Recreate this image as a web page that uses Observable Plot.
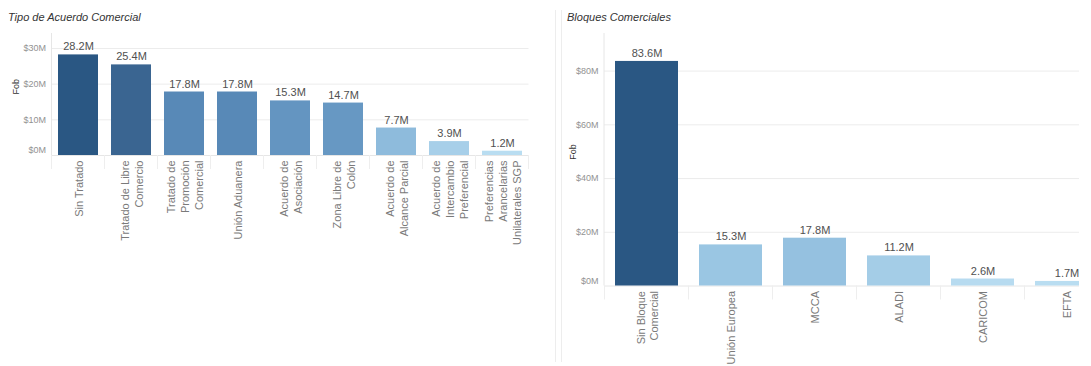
<!DOCTYPE html>
<html>
<head>
<meta charset="utf-8">
<script src="https://cdn.jsdelivr.net/npm/d3@7"></script>
<script src="https://cdn.jsdelivr.net/npm/@observablehq/plot@0.6"></script>
<style>
  html, body { margin: 0; padding: 0; background: #fff; }
  #wrap { position: relative; width: 1091px; height: 366px; overflow: hidden; background: #fff; }
  #left, #right { position: absolute; top: 0; }
  #left { left: 0; }
  #right { left: 556px; }
  .title { position: absolute; top: 11px; font: italic 11px "Liberation Sans", Arial, sans-serif; color: #333; z-index: 2; }
  .sep { position: absolute; top: 10px; width: 1px; height: 352px; background: #ededed; z-index: 2; }
  svg { overflow: hidden; }
</style>
</head>
<body>
<div id="wrap">
  <div id="left"></div>
  <div id="right"></div>
  <div class="title" style="left:8px">Tipo de Acuerdo Comercial</div>
  <div class="title" style="left:567px">Bloques Comerciales</div>
  <div class="sep" style="left:555px"></div>
  <div class="sep" style="left:561px"></div>
</div>
<script>
// ---- Data (values in millions USD, FOB) ----
const tipoCategories = [
  "Sin Tratado",
  "Tratado de Libre\nComercio",
  "Tratado de\nPromoción\nComercial",
  "Unión Aduanera",
  "Acuerdo de\nAsociación",
  "Zona Libre de\nColón",
  "Acuerdo de\nAlcance Parcial",
  "Acuerdo de\nIntercambio\nPreferencial",
  "Preferencias\nArancelarias\nUnilaterales SGP"
];
const tipoValues = [28.2, 25.4, 17.8, 17.8, 15.3, 14.7, 7.7, 3.9, 1.2];
const tipoTicks = [0, 10, 20, 30];

const bloqueCategories = ["Sin Bloque\nComercial", "Unión Europea", "MCCA", "ALADI", "CARICOM", "EFTA"];
const bloqueValues = [83.6, 15.3, 17.8, 11.2, 2.6, 1.7];
const bloqueTicks = [0, 20, 40, 60, 80];

const axisTitle = "Fob";

// ---- helpers ----
const ramp = d3.scaleLinear()
  .domain([0, 0.2, 0.5, 0.65, 0.9, 1])
  .range(["#b9ddf1", "#94c1e0", "#6798c3", "#5384b3", "#3a6590", "#2a5783"])
  .interpolate(d3.interpolateRgb)
  .clamp(true);

const tickFmt = v => `$${v}M`;
const valFmt = v => `${v.toFixed(1)}M`;
const FONT = '"Liberation Sans", Arial, sans-serif';

function yAxisLine(color) {
  return (index, scales, values, dims) => {
    const g = d3.create("svg:line")
      .attr("x1", dims.marginLeft).attr("x2", dims.marginLeft)
      .attr("y1", dims.marginTop).attr("y2", dims.height - dims.marginBottom)
      .attr("stroke", color);
    return g.node();
  };
}

function bandDividers(domain, paddingInner, len, color) {
  return (index, scales, values, dims) => {
    const x = scales.x;
    const step = x(domain[1]) - x(domain[0]);
    const edges = domain.map(d => x(d) - step * paddingInner / 2);
    edges.push(x(domain[domain.length - 1]) + step - step * paddingInner / 2);
    const y0 = dims.height - dims.marginBottom;
    const g = d3.create("svg:g").attr("stroke", color);
    for (const e of edges) {
      g.append("line").attr("x1", e).attr("x2", e).attr("y1", y0).attr("y2", y0 + len);
    }
    return g.node();
  };
}

function chart({cats, vals, ticks, width, height, marginLeft, marginRight, marginTop, marginBottom, yMax, xRange, labelOffset, paddingInner}) {
  const data = cats.map((c, i) => ({cat: c, value: vals[i]}));
  const xOpts = {domain: cats, paddingInner, paddingOuter: paddingInner / 2, label: null};
  if (xRange) xOpts.range = xRange;
  return Plot.plot({
    width, height, marginLeft, marginRight, marginTop, marginBottom,
    style: {fontFamily: FONT, background: "transparent", overflow: "hidden"},
    x: xOpts,
    y: {domain: [0, yMax], label: null},
    color: {type: "linear", interpolate: ramp},
    marks: [
      Plot.gridY({ticks: ticks.filter(v => v > 0), stroke: "#ececec", strokeOpacity: 1}),
      Plot.ruleY([0], {stroke: "#e6e6e6"}),
      yAxisLine("#e6e6e6"),
      bandDividers(cats, paddingInner, 14, "#eeeeee"),
      Plot.barY(data, {x: "cat", y: "value", fill: "value"}),
      Plot.text(data, {x: "cat", y: "value", text: d => valFmt(d.value), dy: -8, fontSize: 11, fill: "#505050"}),
      Plot.axisY({ticks: ticks.filter(v => v > 0), tickSize: 0, tickPadding: 6, tickFormat: tickFmt, fontSize: 9, color: "#929292", label: null}),
      Plot.axisY({ticks: [0], tickSize: 0, tickPadding: 6, tickFormat: tickFmt, fontSize: 9, color: "#929292", label: null, dy: -5}),
      Plot.axisX({tickRotate: -90, tickSize: 0, tickPadding: 5, fontSize: 11, color: "#7a7a7a", lineHeight: 1.25, label: null}),
      Plot.text([axisTitle], {text: d => d, frameAnchor: "left", rotate: -90, dx: -labelOffset, fontSize: 9, fill: "#333"})
    ]
  });
}

document.getElementById("left").append(chart({
  cats: tipoCategories, vals: tipoValues, ticks: tipoTicks,
  width: 545, height: 366, marginLeft: 51.5, marginRight: 16.5, marginTop: 33, marginBottom: 211,
  yMax: 34.2, labelOffset: 36, paddingInner: 0.245
}));

document.getElementById("right").append(chart({
  cats: bloqueCategories, vals: bloqueValues, ticks: bloqueTicks,
  width: 523, height: 366, marginLeft: 48, marginRight: 0, marginTop: 33, marginBottom: 80.5,
  yMax: 94, xRange: [48, 552], labelOffset: 31, paddingInner: 0.25
}));
</script>
</body>
</html>
